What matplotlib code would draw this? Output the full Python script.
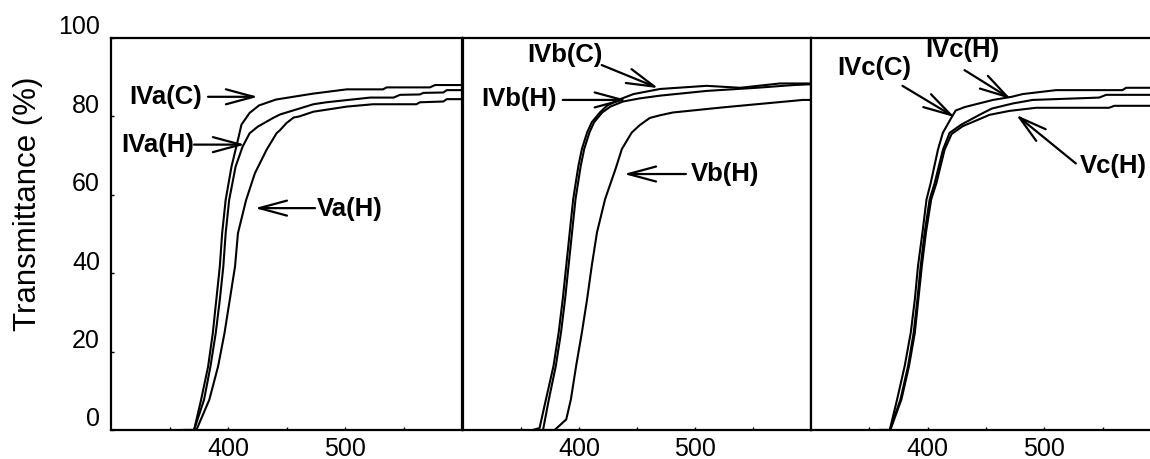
import matplotlib
matplotlib.use("Agg")
import matplotlib.pyplot as plt
import matplotlib.transforms as mtransforms

plt.rcParams['font.family'] = ['Liberation Sans', 'DejaVu Sans']

# ---- data (wavelength nm, transmittance %) ----
# panel a
wl_IVa_C = [362, 371, 377, 383, 387, 390, 393, 395, 398, 403, 408.5, 411.5, 418.5, 426.5, 441, 472.5, 501.5, 532.5, 535.5, 572.5, 577, 600]
T_IVa_C = [0, 0, 7.7, 16.2, 24.7, 33.2, 41.7, 50.2, 58.7, 67.2, 74, 77.9, 80.9, 82.8, 84.3, 85.8, 86.9, 86.9, 87.4, 87.4, 88, 88]

wl_IVa_H = [362, 371, 379.5, 385, 389.5, 393, 396, 398, 401, 406.5, 412.5, 418.5, 425.5, 438.5, 444.5, 455.5, 473, 484, 521.5, 541.5, 547, 564, 567, 584, 587, 600]
T_IVa_H = [0, 0, 7.7, 16.2, 24.7, 33.2, 41.7, 50.2, 58.7, 67.2, 72.3, 75.7, 77.4, 79.6, 80.5, 81.5, 83.1, 83.6, 84.8, 84.8, 85.5, 85.6, 86, 86.1, 86.7, 86.7]

wl_Va_H = [362, 373, 384, 391.5, 397, 401.5, 406, 408.5, 415.5, 423, 433, 441.5, 444.5, 450, 456, 461, 473, 484, 501.5, 524, 561, 564, 584, 587, 600]
T_Va_H = [0, 0, 7.7, 16.2, 24.7, 33.2, 41.7, 50.2, 58.7, 65.5, 71.5, 75.7, 76.5, 78.3, 79.7, 80, 81.2, 81.7, 82.5, 83.1, 83.1, 83.6, 83.8, 84.4, 84.4]

# panel b
wl_IVb_C = [360, 366, 371.5, 378, 382.5, 386, 389, 392, 395, 399.5, 402.5, 407, 411, 418, 424, 435.5, 447, 470, 510, 539, 573, 600]
T_IVb_C = [0, 0.5, 7.8, 16.3, 24.9, 33.4, 41.9, 50.4, 58.9, 67.4, 71.7, 75.9, 78.5, 81, 82.7, 84.4, 85.7, 87, 87.8, 87.3, 88.4, 88.4]

wl_IVb_H = [364, 369, 374, 380, 384.5, 388, 391, 394, 397, 401.5, 404.5, 409, 413, 420, 427, 438, 452.5, 470, 510, 553, 585, 600]
T_IVb_H = [0, 0, 7.8, 16.3, 24.9, 33.4, 41.9, 50.4, 58.9, 67.4, 71.7, 75.9, 78.5, 81, 82.5, 83.8, 84.6, 85.3, 86.5, 87.3, 88, 88.2]

wl_Vb_H = [372, 379, 389, 393, 397.5, 402.5, 407, 411, 415.5, 422.5, 431.5, 437, 445.5, 452.5, 461, 470, 481, 524, 553, 593, 600]
T_Vb_H = [0, 0, 2.7, 7.8, 16.3, 24.9, 33.4, 41.9, 50.4, 58.9, 66.6, 71.7, 75.9, 77.8, 79.6, 80.3, 81, 82.3, 83.1, 84.2, 84.2]

# panel c
wl_IVc_C = [359, 367.5, 373.8, 380.3, 385.5, 389, 391.7, 395.5, 399, 402.6, 408.8, 413, 420, 424, 432, 456, 472, 481.5, 510, 567, 570, 600]
T_IVc_C = [0, 0, 7.8, 16.3, 24.8, 33.3, 41.8, 50.3, 58.8, 63, 71.5, 75.8, 79.5, 81.5, 82.4, 84.2, 85, 85.7, 86.7, 86.7, 87.3, 87.3]

wl_IVc_H = [359, 367.5, 376.7, 383.2, 388, 391.2, 394, 397.4, 401.7, 406, 413.1, 418.8, 428.8, 444.4, 455, 473, 490, 547, 553, 600]
T_IVc_H = [0, 0, 7.8, 16.3, 24.8, 33.3, 41.8, 50.3, 58.8, 63, 71.5, 75.8, 77.9, 80.4, 82, 83.3, 84.2, 84.8, 85.5, 85.5]

wl_Vc_H = [359, 368, 377.5, 384, 389, 392, 395, 398.5, 403, 407.5, 414.5, 420.5, 430, 444.4, 453, 470, 493, 555.5, 560, 600]
T_Vc_H = [0, 0, 7.8, 16.3, 24.8, 33.3, 41.8, 50.3, 58.8, 63, 71.5, 75.5, 77.5, 79.3, 80.4, 81.4, 82.2, 82.2, 82.7, 82.7]

# labels: (text, text x, text y, ha, arrow tail, arrow tip)
notes_a = [("IVa(C)", 377.8, 85, "right", (382.9, 85), (425.6, 85)),
           ("IVa(H)", 370.9, 72.6, "right", (371, 72.8), (414.5, 72.8)),
           ("Va(H)", 476.1, 56.5, "left", (474.4, 56.6), (423, 56.6))]
notes_b = [("IVb(C)", 387.5, 95.7, "center", (419.6, 93.1), (468.4, 87.2)),
           ("IVb(H)", 381, 84.4, "right", (386, 84.2), (441.1, 84.2)),
           ("Vb(H)", 496.3, 65.3, "left", (492.2, 65.3), (438.8, 65.3))]
notes_c = [("IVc(C)", 354.3, 92.3, "center", (378.4, 87.8), (423.1, 79.8)),
           ("IVc(H)", 429.5, 96.9, "center", (431.6, 91.8), (471.5, 84.4)),
           ("Vc(H)", 530.5, 67.4, "left", (527, 68), (475.8, 80.4))]

panels = [
    ([(wl_IVa_C, T_IVa_C), (wl_IVa_H, T_IVa_H), (wl_Va_H, T_Va_H)], notes_a),
    ([(wl_IVb_C, T_IVb_C), (wl_IVb_H, T_IVb_H), (wl_Vb_H, T_Vb_H)], notes_b),
    ([(wl_IVc_C, T_IVc_C), (wl_IVc_H, T_IVc_H), (wl_Vc_H, T_Vc_H)], notes_c),
]

fig = plt.figure(figsize=(11.5, 4.59), dpi=100)
lefts = [111, 463, 811]
widths = [351, 348, 350]

for i, (curves, notes) in enumerate(panels):
    ax = fig.add_axes([lefts[i] / 1150, 29 / 459, widths[i] / 1150, 392 / 459])
    for x, y in curves:
        ax.plot(x, y, color='black', lw=1.5)
    ax.set_xlim(300, 600)
    ax.set_ylim(0, 100)
    ax.set_xticks([350, 400, 450, 500, 550], ['', '400', '', '500', ''])
    ax.tick_params(axis='x', direction='in', length=2, width=1, labelsize=18, pad=5)
    if i == 0:
        ax.set_yticks([0, 20, 40, 60, 80, 100])
        ax.tick_params(axis='y', direction='in', length=2, width=1, labelsize=18, pad=8)
        shift = mtransforms.ScaledTranslation(0, 0.13, fig.dpi_scale_trans)
        for lab in ax.get_yticklabels():
            lab.set_transform(lab.get_transform() + shift)
    else:
        ax.set_yticks([])
    for s in ax.spines.values():
        s.set_linewidth(1.6)
    for txt, tx, ty, ha, tail, tip in notes:
        ax.text(tx, ty, txt, ha=ha, va='center', fontsize=18.5, fontweight='bold', clip_on=False)
        ax.annotate('', xy=tip, xytext=tail,
                    arrowprops=dict(arrowstyle='->,head_length=1.0,head_width=0.27',
                                    lw=1.6, color='black', shrinkA=0, shrinkB=0,
                                    mutation_scale=20))

fig.text(28 / 1150, 255 / 459, 'Transmittance (%)', rotation=90, ha='center', va='center', fontsize=22.5)

fig.savefig('out.png', dpi=100)
